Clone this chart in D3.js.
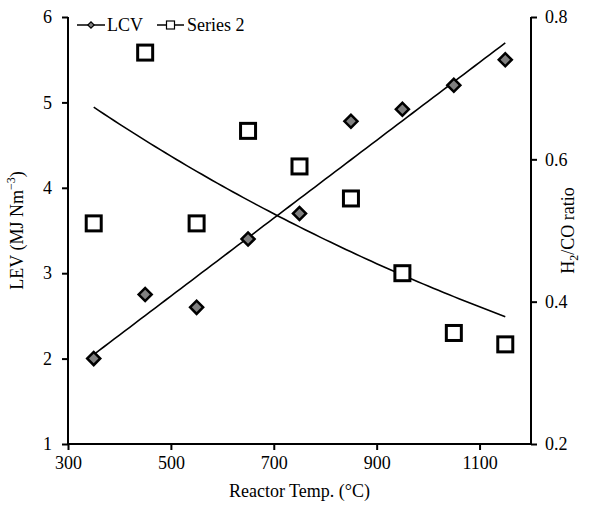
<!DOCTYPE html>
<html>
<head>
<meta charset="utf-8">
<script src="https://cdn.jsdelivr.net/npm/d3@7"></script>
<style>
  body { margin: 0; background: #fff; }
  text { font-family: "Liberation Serif", "Times New Roman", serif; fill: #000; }
</style>
</head>
<body>
<div id="chart"></div>
<script>
// data
const temps = [350, 450, 550, 650, 750, 850, 950, 1050, 1150];
const lcv = [2.0, 2.75, 2.6, 3.4, 3.7, 4.78, 4.92, 5.2, 5.5];
const ratio = [0.51, 0.75, 0.51, 0.64, 0.59, 0.545, 0.44, 0.356, 0.34];
const xTicks = [300, 500, 700, 900, 1100];
const leftTicks = [1, 2, 3, 4, 5, 6];
const rightTicks = [0.2, 0.4, 0.6, 0.8];

const width = 600, height = 506;
const margin = { top: 17, right: 69, bottom: 62, left: 68 };

const svg = d3.select("#chart").append("svg")
  .attr("width", width)
  .attr("height", height);

const x = d3.scaleLinear().domain([300, 1200]).range([margin.left, width - margin.right]);
const yL = d3.scaleLinear().domain([1, 6]).range([height - margin.bottom, margin.top]);
const yR = d3.scaleLinear().domain([0.2, 0.8]).range([height - margin.bottom, margin.top]);

// axes
const xAxis = svg.append("g")
  .attr("transform", `translate(0,${height - margin.bottom})`)
  .call(d3.axisBottom(x).tickValues(xTicks).tickSize(6).tickPadding(6).tickFormat(d3.format("d")));
const leftAxis = svg.append("g")
  .attr("transform", `translate(${margin.left},0)`)
  .call(d3.axisLeft(yL).tickValues(leftTicks).tickSize(6).tickPadding(10).tickFormat(d3.format("d")));
const rightAxis = svg.append("g")
  .attr("transform", `translate(${width - margin.right},0)`)
  .call(d3.axisRight(yR).tickValues(rightTicks).tickSize(6).tickPadding(8).tickFormat(d3.format(".1f")));

[xAxis, leftAxis, rightAxis].forEach(a => {
  a.select(".domain").attr("stroke", "#000").attr("stroke-width", 2);
  a.selectAll(".tick line").attr("stroke", "#000").attr("stroke-width", 2);
  a.selectAll(".tick text").style("font-size", "18px").attr("fill", "#000");
});
leftAxis.select(".domain").attr("d", `M0,${margin.top}V${height - margin.bottom}`);
rightAxis.select(".domain").attr("d", `M0,${margin.top}V${height - margin.bottom}`);
xAxis.select(".domain").attr("d", `M${margin.left},0H${width - margin.right}`);

// axis titles
svg.append("text")
  .attr("x", (margin.left + width - margin.right) / 2)
  .attr("y", 497)
  .attr("text-anchor", "middle")
  .style("font-size", "18px")
  .text("Reactor Temp. (°C)");

const leftTitle = svg.append("text")
  .attr("transform", `translate(23,${(margin.top + height - margin.bottom) / 2}) rotate(-90)`)
  .attr("text-anchor", "middle")
  .style("font-size", "18px");
leftTitle.append("tspan").text("LEV (MJ Nm");
leftTitle.append("tspan").attr("dy", -8).style("font-size", "12px").text("−3");
leftTitle.append("tspan").attr("dy", 8).text(")");

const rightTitle = svg.append("text")
  .attr("transform", `translate(574,${(margin.top + height - margin.bottom) / 2}) rotate(-90)`)
  .attr("text-anchor", "middle")
  .style("font-size", "18px");
rightTitle.append("tspan").text("H");
rightTitle.append("tspan").attr("dy", 4).style("font-size", "12px").text("2");
rightTitle.append("tspan").attr("dy", -4).text("/CO ratio");

// trendlines fitted from the data (linear for LCV, exponential for ratio)
const mx = d3.mean(temps);
const sxx = d3.sum(temps, t => (t - mx) * (t - mx));
const my = d3.mean(lcv);
const slope = d3.sum(temps, (t, i) => (t - mx) * (lcv[i] - my)) / sxx;
const lnR = ratio.map(Math.log);
const mln = d3.mean(lnR);
const bExp = d3.sum(temps, (t, i) => (t - mx) * (lnR[i] - mln)) / sxx;

const tx = d3.range(350, 1150.1, 10);
svg.append("path")
  .attr("d", d3.line().x(t => x(t)).y(t => yL(my + slope * (t - mx)))(tx))
  .attr("fill", "none").attr("stroke", "#000").attr("stroke-width", 1.6);
svg.append("path")
  .attr("d", d3.line().x(t => x(t)).y(t => yR(Math.exp(mln + bExp * (t - mx))))(tx))
  .attr("fill", "none").attr("stroke", "#000").attr("stroke-width", 1.6);

// markers
const diamond = d3.symbol().type(d3.symbolSquare).size(85);
svg.append("g").selectAll("path")
  .data(temps)
  .join("path")
  .attr("d", diamond)
  .attr("transform", (t, i) => `translate(${x(t)},${yL(lcv[i])}) rotate(45)`)
  .attr("fill", "#808080").attr("stroke", "#000").attr("stroke-width", 2.5);

svg.append("g").selectAll("rect")
  .data(temps)
  .join("rect")
  .attr("x", t => x(t) - 7.5)
  .attr("y", (t, i) => yR(ratio[i]) - 7.5)
  .attr("width", 15).attr("height", 15)
  .attr("fill", "#fff").attr("stroke", "#000").attr("stroke-width", 3);

// legend
const legend = svg.append("g").attr("transform", "translate(77,25)");
legend.append("line").attr("x1", 0).attr("x2", 28).attr("stroke", "#000").attr("stroke-width", 1.5);
legend.append("path").attr("d", d3.symbol().type(d3.symbolSquare).size(20))
  .attr("transform", "translate(14,0) rotate(45)")
  .attr("fill", "#808080").attr("stroke", "#000").attr("stroke-width", 1.2);
legend.append("text").attr("x", 30).attr("y", 6).style("font-size", "18px").text("LCV");

legend.append("line").attr("x1", 80).attr("x2", 107).attr("stroke", "#000").attr("stroke-width", 1.5);
legend.append("rect").attr("x", 89.5).attr("y", -4).attr("width", 8).attr("height", 8)
  .attr("fill", "#fff").attr("stroke", "#000").attr("stroke-width", 1.2);
legend.append("text").attr("x", 110).attr("y", 6).style("font-size", "18px").text("Series 2");
</script>
</body>
</html>
